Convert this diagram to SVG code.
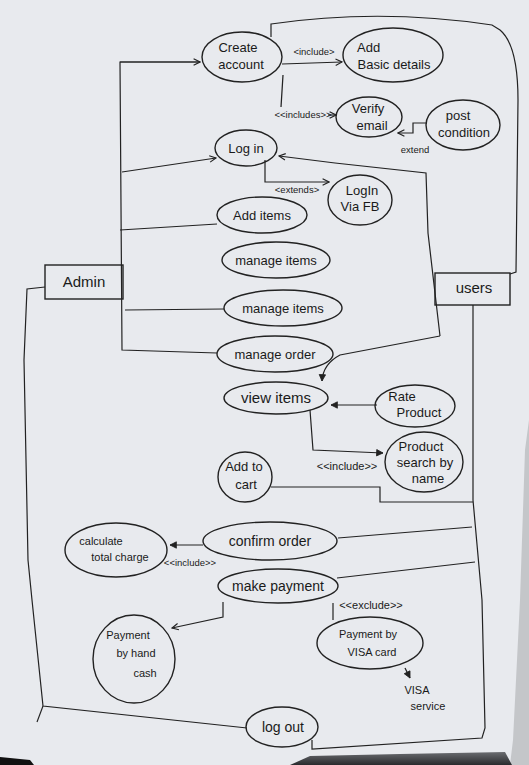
<svg xmlns="http://www.w3.org/2000/svg" width="529" height="765" viewBox="0 0 529 765">
<defs>
<style>
.n ellipse, .n rect { fill: none; stroke: #222; stroke-width: 1.4; }
.c path { fill: none; stroke: #222; stroke-width: 1.2; }
text { font-family: "Liberation Sans", Arial, sans-serif; fill: #1a1a1a; }
.t { font-size: 13px; text-anchor: middle; }
.s { font-size: 11px; text-anchor: middle; }
.l { font-size: 9.5px; text-anchor: middle; }
</style>
<linearGradient id="shadow" x1="0" y1="0" x2="0" y2="1">
<stop offset="0" stop-color="#6a6c70"/>
<stop offset="1" stop-color="#2a2b2e"/>
</linearGradient>
<marker id="open" viewBox="0 0 10 10" refX="9" refY="5" markerWidth="8" markerHeight="8" orient="auto" markerUnits="userSpaceOnUse">
<path d="M1,1 L9,5 L1,9" fill="none" stroke="#222" stroke-width="1.4"/>
</marker>
<marker id="fill" viewBox="0 0 10 10" refX="9" refY="5" markerWidth="8" markerHeight="8" orient="auto" markerUnits="userSpaceOnUse">
<path d="M1,1 L9,5 L1,9 Z" fill="#222" stroke="#222" stroke-width="1"/>
</marker>
</defs>
<rect x="0" y="0" width="529" height="765" fill="#e8eaee"/>
<path d="M529,420 L529,765 L510,765 L513,740 L520,600 L525,450 Z" fill="#c4c6c9"/>
<path d="M0,757 L30,760 L34,765 L0,765 Z" fill="#111"/>
<path d="M290,765 L310,756 L400,754 L505,752 L512,765 Z" fill="url(#shadow)"/>

<g class="c">
<path d="M200,62 L120,62 L122,350 L217,353"/>
<path d="M120,62 L200,62" marker-end="url(#open)"/>
<path d="M122,172 L216,158" marker-end="url(#open)"/>
<path d="M120,230 L217,224"/>
<path d="M125,310 L224,309"/>
<path d="M282,64 L342,62" marker-end="url(#open)"/>
<path d="M283,75 L281,107"/>
<path d="M328,115 L336,115" marker-end="url(#open)"/>
<path d="M427,123 L413,123 L413,133 L398,133" marker-end="url(#open)"/>
<path d="M265,160 L265,182 L329,182" marker-end="url(#open)"/>
<path d="M271,37 L271,24 Q380,8 492,25 L500,30 Q518,45 518,100 L516,272 L510,274"/>
<path d="M440,336 L428,233 L426,173 L335,163 L279,156" marker-end="url(#open)"/>
<path d="M440,336 L340,355 Q323,364 322,381" marker-end="url(#fill)"/>
<path d="M377,405 L331,405" marker-end="url(#fill)"/>
<path d="M310,410 L313,450 L383,453" marker-end="url(#fill)"/>
<path d="M473,305 L473,500 L482,600 L485,728 L482,738 L312,749 L312,740"/>
<path d="M271,487 L380,487 L380,502 L473,502"/>
<path d="M338,538 L472,527"/>
<path d="M203,545 L170,545" marker-end="url(#fill)"/>
<path d="M337,578 L475,562"/>
<path d="M223,602 L223,617 L172,628" marker-end="url(#open)"/>
<path d="M333,603 L333,620"/>
<path d="M405,668 L410,678" marker-end="url(#fill)"/>
<path d="M45,287 L27,289 L24,360 L28,560 L32,600 L43,706 L247,728"/>
<path d="M43,706 L37,722"/>
<text class="l" x="314" y="55">&lt;include&gt;</text>
<text class="l" x="303" y="118">&lt;&lt;includes&gt;&gt;</text>
<text class="l" x="415" y="153">extend</text>
<text class="l" x="297" y="193">&lt;extends&gt;</text>
<text class="s" x="347" y="470">&lt;&lt;include&gt;&gt;</text>
<text class="l" x="190" y="566">&lt;&lt;include&gt;&gt;</text>
<text class="s" x="371" y="609">&lt;&lt;exclude&gt;&gt;</text>
</g>

<g id="create-account" class="n"><ellipse cx="242" cy="57" rx="40" ry="25"/><text class="t" x="238" y="52">Create</text><text class="t" x="241" y="69">account</text></g>
<g id="add-basic-details" class="n"><ellipse cx="393" cy="55" rx="50" ry="27"/><text class="t" x="357" y="52" style="text-anchor:start">Add</text><text class="t" x="394" y="69">Basic details</text></g>
<g id="verify-email" class="n"><ellipse cx="369" cy="117" rx="33" ry="20"/><text class="t" x="368" y="113">Verify</text><text class="t" x="372" y="130">email</text></g>
<g id="post-condition" class="n"><ellipse cx="463" cy="125" rx="37" ry="25"/><text class="t" x="458" y="120">post</text><text class="t" x="464" y="137">condition</text></g>
<g id="log-in" class="n"><ellipse cx="246" cy="148" rx="31" ry="18"/><text class="t" x="246" y="153">Log in</text></g>
<g id="log-in-fb" class="n"><ellipse cx="360" cy="200" rx="32" ry="25"/><text class="t" x="362" y="195">LogIn</text><text class="t" x="360" y="211">Via FB</text></g>
<g id="add-items" class="n"><ellipse cx="262" cy="215" rx="45" ry="18"/><text class="t" x="262" y="220">Add items</text></g>
<g id="manage-items-1" class="n"><ellipse cx="276" cy="260" rx="54" ry="18"/><text class="t" x="276" y="265">manage items</text></g>
<g id="manage-items-2" class="n"><ellipse cx="283" cy="308" rx="59" ry="18"/><text class="t" x="283" y="313">manage items</text></g>
<g id="manage-order" class="n"><ellipse cx="275" cy="354" rx="58" ry="18"/><text class="t" x="275" y="359">manage order</text></g>
<g id="admin" class="n"><rect x="45" y="265" width="78" height="34"/><text class="t" x="84" y="287" style="font-size:15px">Admin</text></g>
<g id="users" class="n"><rect x="435" y="273" width="75" height="32"/><text class="t" x="474" y="293" style="font-size:15px">users</text></g>
<g id="view-items" class="n"><ellipse cx="276" cy="398" rx="52" ry="16"/><text class="t" x="276" y="403" style="font-size:15px">view items</text></g>
<g id="rate-product" class="n"><ellipse cx="415" cy="406" rx="40" ry="21"/><text class="t" x="402" y="401">Rate</text><text class="t" x="419" y="417">Product</text></g>
<g id="product-search" class="n"><ellipse cx="424" cy="462" rx="39" ry="30"/><text class="t" x="421" y="451">Product</text><text class="t" x="425" y="467">search by</text><text class="t" x="428" y="483">name</text></g>
<g id="add-to-cart" class="n"><ellipse cx="245" cy="477" rx="27" ry="25"/><text class="t" x="244" y="471">Add to</text><text class="t" x="246" y="489">cart</text></g>
<g id="confirm-order" class="n"><ellipse cx="270" cy="541" rx="67" ry="19"/><text class="t" x="270" y="546" style="font-size:14px">confirm order</text></g>
<g id="calculate" class="n"><ellipse cx="116" cy="550" rx="51" ry="27"/><text class="s" x="101" y="545">calculate</text><text class="s" x="120" y="561">total charge</text></g>
<g id="make-payment" class="n"><ellipse cx="278" cy="586" rx="60" ry="17"/><text class="t" x="278" y="591" style="font-size:14px">make payment</text></g>
<g id="pay-cash" class="n"><ellipse cx="134" cy="659" rx="41" ry="44"/><text class="s" x="128" y="639">Payment</text><text class="s" x="136" y="657">by hand</text><text class="s" x="145" y="677">cash</text></g>
<g id="pay-visa" class="n"><ellipse cx="370" cy="643" rx="53" ry="26"/><text class="s" x="368" y="638">Payment by</text><text class="s" x="372" y="656">VISA card</text></g>
<g id="visa-service"><text class="s" x="417" y="694">VISA</text><text class="s" x="428" y="710">service</text></g>
<g id="log-out" class="n"><ellipse cx="282" cy="727" rx="36" ry="20"/><text class="t" x="283" y="732" style="font-size:14px">log out</text></g>
</svg>
